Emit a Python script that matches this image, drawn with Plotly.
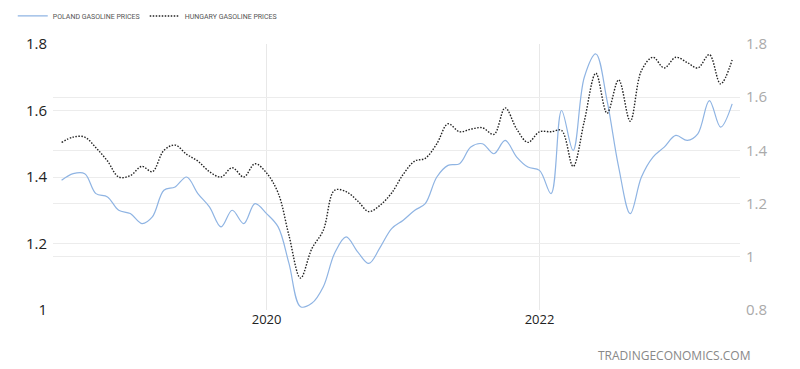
import plotly.graph_objects as go
import pandas as pd

dates = pd.date_range("2018-07-01", periods=60, freq="MS")

poland = [1.39, 1.41, 1.41, 1.35, 1.34, 1.30, 1.29, 1.26, 1.28, 1.36,
          1.37, 1.40, 1.35, 1.31, 1.25, 1.30, 1.26, 1.32, 1.29, 1.25,
          1.14, 1.01, 1.02, 1.07, 1.17, 1.22, 1.175, 1.14, 1.19, 1.245,
          1.27, 1.30, 1.32, 1.40, 1.435, 1.44, 1.49, 1.50, 1.47, 1.51,
          1.46, 1.43, 1.42, 1.35, 1.60, 1.48, 1.70, 1.77, 1.63, 1.43,
          1.29, 1.40, 1.46, 1.49, 1.525, 1.51, 1.53, 1.63, 1.55, 1.62]

hungary = [1.43, 1.45, 1.45, 1.41, 1.36, 1.30, 1.305, 1.34, 1.32, 1.40,
           1.42, 1.385, 1.36, 1.32, 1.30, 1.335, 1.30, 1.35, 1.315, 1.24,
           1.08, 0.92, 1.03, 1.10, 1.25, 1.245, 1.21, 1.17, 1.195, 1.24,
           1.31, 1.36, 1.37, 1.425, 1.50, 1.47, 1.48, 1.485, 1.46, 1.56,
           1.48, 1.43, 1.47, 1.47, 1.475, 1.34, 1.51, 1.69, 1.54, 1.665,
           1.51, 1.70, 1.75, 1.71, 1.75, 1.73, 1.71, 1.76, 1.65, 1.74]

left_ticks = [1.0, 1.2, 1.4, 1.6, 1.8]
left_labels = ["1", "1.2", "1.4", "1.6", "1.8"]
right_ticks = [0.8, 1.0, 1.2, 1.4, 1.6, 1.8]
right_labels = ["0.8", "1", "1.2", "1.4", "1.6", "1.8"]
x_ticks = ["2020-01-01", "2022-01-01"]
x_labels = ["2020", "2022"]

fig = go.Figure()
fig.add_trace(go.Scatter(x=dates, y=poland, name="POLAND GASOLINE PRICES",
                         mode="lines", line=dict(color="#8fb4e3", width=1.2, shape="spline"),
                         yaxis="y"))
fig.add_trace(go.Scatter(x=dates, y=hungary, name="HUNGARY GASOLINE PRICES",
                         mode="lines", line=dict(color="#222222", width=1.4, dash="1.5px,1.5px", shape="spline"),
                         yaxis="y2"))

font_family = "Open Sans, Lato, sans-serif"
fig.update_layout(
    width=792, height=361,
    margin=dict(l=45, r=60, t=36, b=59, autoexpand=False),
    paper_bgcolor="white", plot_bgcolor="white",
    font=dict(family=font_family),
    showlegend=True,
    legend=dict(orientation="h", xref="container", yref="container",
                x=0.006, y=0.978, xanchor="left", yanchor="middle",
                font=dict(size=7, color="#555", family="Roboto, sans-serif"),
                itemwidth=30, tracegroupgap=0,
                bgcolor="rgba(0,0,0,0)"),
    xaxis=dict(type="date", range=["2018-06-08", "2023-06-22"],
               tickvals=x_ticks, ticktext=x_labels,
               showgrid=True, gridcolor="#e8e8e8", gridwidth=1,
               showline=False, zeroline=False, ticks="",
               tickfont=dict(size=13, color="#222")),
    yaxis=dict(range=[1.0, 1.8], tickvals=left_ticks, ticktext=left_labels,
               showgrid=True, gridcolor="#ececec", zeroline=False, showline=False,
               tickfont=dict(size=15, color="#222"), ticks="", ticklabelstandoff=5),
    yaxis2=dict(range=[0.8, 1.8], tickvals=right_ticks, ticktext=right_labels,
                overlaying="y", side="right",
                showgrid=True, gridcolor="#ececec", zeroline=False, showline=False,
                tickfont=dict(size=15, color="#aaaaaa"), ticks="", ticklabelstandoff=5),
    annotations=[dict(text="TRADINGECONOMICS.COM", xref="paper", yref="paper",
                      x=1.017, y=-0.17, xanchor="right", yanchor="middle",
                      showarrow=False, font=dict(size=12, color="#888"))],
)

fig.write_html("out.html")
